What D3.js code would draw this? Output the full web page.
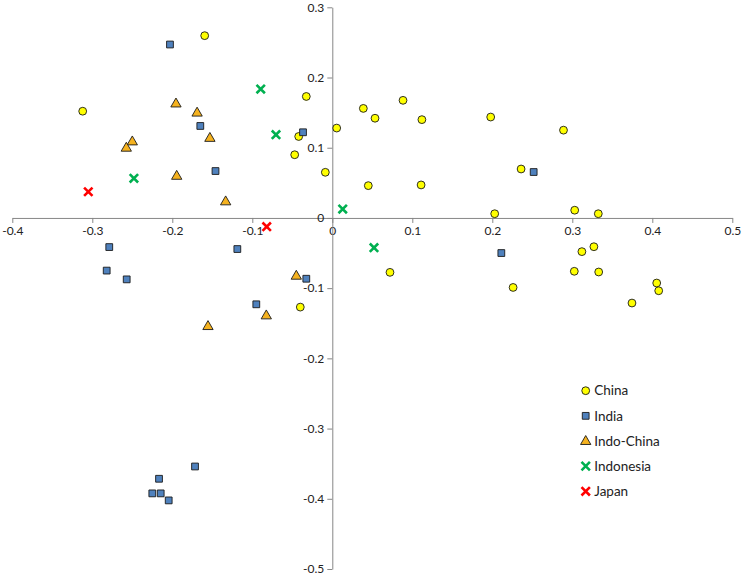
<!DOCTYPE html>
<html><head><meta charset="utf-8">
<script src="https://cdn.jsdelivr.net/npm/d3@7"></script>
<style>body{margin:0;background:#fff}svg{display:block}text{font-family:Lato,"Liberation Sans",sans-serif}</style>
</head><body><svg id="c" width="743" height="576"></svg>
<script>
const xTicks=[-0.4,-0.3,-0.2,-0.1,0,0.1,0.2,0.3,0.4,0.5];
const yTicks=[-0.5,-0.4,-0.3,-0.2,-0.1,0,0.1,0.2,0.3];
const seriesNames=["China","India","Indo-China","Indonesia","Japan"];
const china=[[-0.1595,0.2596],[-0.312,0.152],[-0.0325,0.173],[-0.042,0.116],[-0.047,0.090],[0.0055,0.128],[-0.0087,0.065],[0.0388,0.156],[0.0534,0.142],[0.0884,0.1675],[0.112,0.140],[0.045,0.046],[0.111,0.047],[0.198,0.1437],[0.236,0.0697],[0.289,0.125],[0.203,0.006],[0.303,0.011],[0.3325,0.006],[0.0721,-0.0775],[0.226,-0.099],[0.312,-0.048],[0.327,-0.041],[0.3025,-0.076],[0.333,-0.077],[0.4055,-0.0927],[0.408,-0.1037],[0.3746,-0.1212],[-0.040,-0.127]];
const india=[[-0.2029,0.247],[-0.165,0.131],[-0.146,0.0668],[-0.0366,0.122],[0.2517,0.0654],[-0.2788,-0.0415],[-0.282,-0.075],[-0.257,-0.0875],[-0.1187,-0.0443],[-0.095,-0.123],[-0.0325,-0.0866],[0.2113,-0.050],[-0.1716,-0.354],[-0.2166,-0.3715],[-0.225,-0.3923],[-0.2145,-0.3923],[-0.2045,-0.4023]];
const indoChina=[[-0.1954,0.163],[-0.169,0.150],[-0.153,0.114],[-0.25,0.109],[-0.2575,0.100],[-0.1945,0.060],[-0.1333,0.0236],[-0.045,-0.0823],[-0.0825,-0.1388],[-0.1554,-0.154]];
const indonesia=[[-0.0895,0.1836],[-0.0704,0.1185],[-0.248,0.0564],[0.013,0.0127],[0.0521,-0.0424]];
const japan=[[-0.305,0.0373],[-0.082,-0.0125]];

const svg=d3.select("#c");
const x=d3.scaleLinear().domain([-0.4,0.5]).range([12.3,732.3]);
const y=d3.scaleLinear().domain([-0.5,0.3]).range([569,7.3]);
const fmt=d=>String(+d.toFixed(1));
const axisColor="#868686";

const gx=svg.append("g").attr("transform",`translate(0,${y(0)})`)
  .call(d3.axisBottom(x).tickValues(xTicks).tickFormat(fmt).tickSize(5).tickSizeOuter(0).tickPadding(4));
const gy=svg.append("g").attr("transform",`translate(${x(0)},0)`)
  .call(d3.axisLeft(y).tickValues(yTicks).tickFormat(fmt).tickSize(5).tickSizeOuter(0).tickPadding(3));
[gx,gy].forEach(g=>{
  g.select(".domain").attr("stroke",axisColor).attr("stroke-width",1);
  g.selectAll(".tick line").attr("stroke",axisColor);
  g.selectAll("text").attr("fill","#222").style("font-size","12px").style("font-family","Lato,'Liberation Sans',sans-serif");
});

const styles=[
 {name:"China",data:china,type:"circle",fill:"#FFFF00"},
 {name:"India",data:india,type:"square",fill:"#4F81BD"},
 {name:"Indo-China",data:indoChina,type:"triangle",fill:"#F5B21F"},
 {name:"Indonesia",data:indonesia,type:"x",color:"#00B050"},
 {name:"Japan",data:japan,type:"x",color:"#FF0000"}
];
function drawMarker(g,s){
  if(s.type==="x"){
    const h=4.2;
    g.append("path").attr("d",`M${-h},${-h}L${h},${h}M${-h},${h}L${h},${-h}`)
      .attr("stroke",s.color).attr("stroke-width",2.6).attr("fill","none");
  } else {
    const sym={circle:d3.symbolCircle,square:d3.symbolSquare,triangle:d3.symbolTriangle}[s.type];
    const size={circle:48,square:46,triangle:46}[s.type];
    g.append("path").attr("d",d3.symbol().type(sym).size(size)())
      .attr("fill",s.fill).attr("stroke","#1a1a1a").attr("stroke-width",0.9)
      .attr("transform",s.type==="triangle"?"translate(0,0.5)":null);
  }
}
styles.forEach(s=>{
  svg.append("g").selectAll("g").data(s.data).join("g")
    .attr("transform",d=>`translate(${x(d[0])},${y(d[1])})`)
    .each(function(){drawMarker(d3.select(this),s);});
});

const leg=svg.append("g");
const legY=d3.scalePoint().domain(seriesNames).range([390.7,491.3]);
styles.forEach(s=>{
  const g=leg.append("g").attr("transform",`translate(585.7,${legY(s.name)})`);
  drawMarker(g,s);
  g.append("text").attr("x",8.5).attr("dy","0.35em").attr("fill","#222")
    .style("font-size","13.5px").text(s.name);
});
</script></body></html>
